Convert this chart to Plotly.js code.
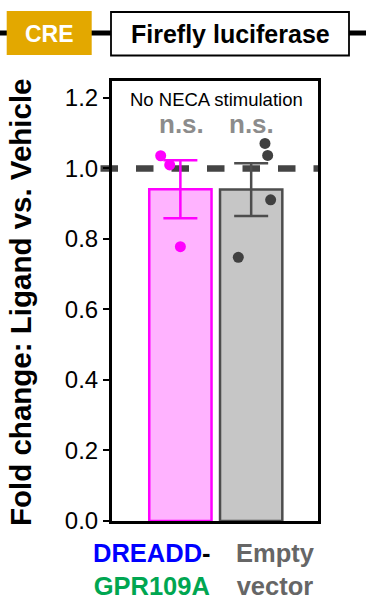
<!DOCTYPE html>
<html>
<head>
<meta charset="utf-8">
<script src="https://cdn.plot.ly/plotly-3.0.1.min.js"></script>
<style>html,body{margin:0;padding:0;background:#fff;}#chart{width:366px;height:600px;}</style>
</head>
<body>
<div id="chart"></div>
<script>
// ---- data ----
const categories = ['DREADD-GPR109A', 'Empty vector'];
const tickLabels = [
  "<span style='color:#0000FF'>DREADD</span><span style='color:#000000'>-</span><br><span style='color:#00A651'>GPR109A</span>",
  "Empty<br>vector"
];
const means = [0.941, 0.940];
const sems = [0.082, 0.075];
const pointsDREADD = [1.036, 1.010, 0.778];
const pointsEmpty = [1.071, 1.037, 0.911, 0.748];
const sigLabels = ['n.s.', 'n.s.'];
const referenceLevel = 1.0;
const yTickVals = [0, 0.2, 0.4, 0.6, 0.8, 1.0, 1.2];
const subtitleText = 'No NECA stimulation';
const yTitleText = 'Fold change: Ligand vs. Vehicle';
const promoterText = 'CRE';
const reporterText = 'Firefly luciferase';

// ---- styling / layout ----
const FONT = 'Liberation Sans, Arial, sans-serif';
const points = [pointsDREADD, pointsEmpty];
const jitter = [[-0.278, -0.151, 0.0], [0.195, 0.233, 0.275, -0.182]];
const fillColors = ['#FFB3FF', '#C6C6C6'];
const lineColors = ['#FF00FF', '#4D4D4D'];
const dotColors = ['#FF00FF', '#404040'];
const labelColors = ['#000000', '#666666'];
const labelShift = [-28, 24];
const sigShift = [1.5, 0.8];

const W = 366, H = 600;
const M = {l: 112, r: 48, t: 81, b: 79};
const pw = W - M.l - M.r, ph = H - M.t - M.b;
const px = x => (x - M.l) / pw;
const py = y => (H - M.b - y) / ph;

const traces = [];
categories.forEach((c, i) => {
  traces.push({
    type: 'bar', x: [i], y: [means[i]], width: 0.88, name: c,
    marker: {color: fillColors[i], line: {color: lineColors[i], width: 2.5}},
    error_y: {type: 'data', array: [sems[i]], visible: true, color: lineColors[i], thickness: 2.5, width: 17},
    hoverinfo: 'skip', showlegend: false
  });
});
categories.forEach((c, i) => {
  traces.push({
    type: 'scatter', mode: 'markers',
    x: points[i].map((v, j) => i + jitter[i][j]), y: points[i],
    marker: {color: dotColors[i], size: 11},
    cliponaxis: false, hoverinfo: 'skip', showlegend: false
  });
});

const annotations = [];
categories.forEach((c, i) => {
  annotations.push({
    text: tickLabels[i], xref: 'x', x: i, xshift: labelShift[i], xanchor: 'center',
    yref: 'paper', y: 0, yanchor: 'top', yshift: -15.5,
    showarrow: false, align: 'center', font: {family: FONT, size: 25.5, color: labelColors[i], weight: 'bold'}
  });
  annotations.push({
    text: sigLabels[i], xref: 'x', x: i, xshift: sigShift[i], xanchor: 'center',
    yref: 'paper', y: py(124.3), yanchor: 'middle',
    showarrow: false, font: {family: FONT, size: 26, color: '#8C8C8C', weight: 'bold'}
  });
});
annotations.push({
  text: subtitleText, xref: 'paper', x: px(216), xanchor: 'center', yref: 'paper', y: py(99.6), yanchor: 'middle',
  showarrow: false, font: {family: FONT, size: 18.5, color: '#000000'}
});
annotations.push({
  text: yTitleText, xref: 'paper', x: px(20.5), yref: 'paper', y: py(302.5), xanchor: 'center', yanchor: 'middle',
  textangle: -90, showarrow: false, font: {family: FONT, size: 29.5, color: '#000000', weight: 'bold'}
});
annotations.push({
  text: promoterText, xref: 'paper', x: px(49), xanchor: 'center', yref: 'paper', y: py(33.5), yanchor: 'middle',
  showarrow: false, font: {family: FONT, size: 23, color: '#FFFFFF', weight: 'bold'}
});
annotations.push({
  text: reporterText, xref: 'paper', x: px(230), xanchor: 'center', yref: 'paper', y: py(34), yanchor: 'middle',
  showarrow: false, font: {family: FONT, size: 25, color: '#000000', weight: 'bold'}
});

const shapes = [
  {type: 'line', xref: 'paper', yref: 'paper', x0: px(0), x1: px(366), y0: py(33), y1: py(33),
   line: {color: '#000000', width: 5}},
  {type: 'rect', xref: 'paper', yref: 'paper', x0: px(6.7), x1: px(91.7), y0: py(11), y1: py(55),
   fillcolor: '#E3A800', line: {width: 0}},
  {type: 'rect', xref: 'paper', yref: 'paper', x0: px(111), x1: px(349), y0: py(12), y1: py(55.5),
   fillcolor: '#FFFFFF', line: {color: '#000000', width: 1.8}},
  {type: 'line', xref: 'paper', yref: 'y', x0: px(100.5), x1: 1, y0: referenceLevel, y1: referenceLevel,
   layer: 'below', line: {color: '#444444', width: 6.5, dash: '17.5px,18px'}}
];

const layout = {
  width: W, height: H, margin: M,
  paper_bgcolor: '#FFFFFF', plot_bgcolor: 'rgba(0,0,0,0)',
  font: {family: FONT, color: '#000000'},
  showlegend: false, barmode: 'overlay',
  xaxis: {range: [-0.966, 1.944], showline: true, mirror: true, linewidth: 3, linecolor: '#000000',
          showgrid: false, zeroline: false, showticklabels: false, ticks: '', fixedrange: true},
  yaxis: {range: [0, 1.248], tickvals: yTickVals, tickformat: '.1f', showline: true, mirror: true,
          linewidth: 3, linecolor: '#000000', showgrid: false, zeroline: false,
          ticks: 'outside', ticklen: 6, tickwidth: 2, tickcolor: '#000000',
          tickfont: {family: FONT, size: 24, color: '#000000'}, fixedrange: true},
  annotations: annotations, shapes: shapes
};

Plotly.newPlot('chart', traces, layout, {displayModeBar: false, staticPlot: true});
</script>
</body>
</html>
